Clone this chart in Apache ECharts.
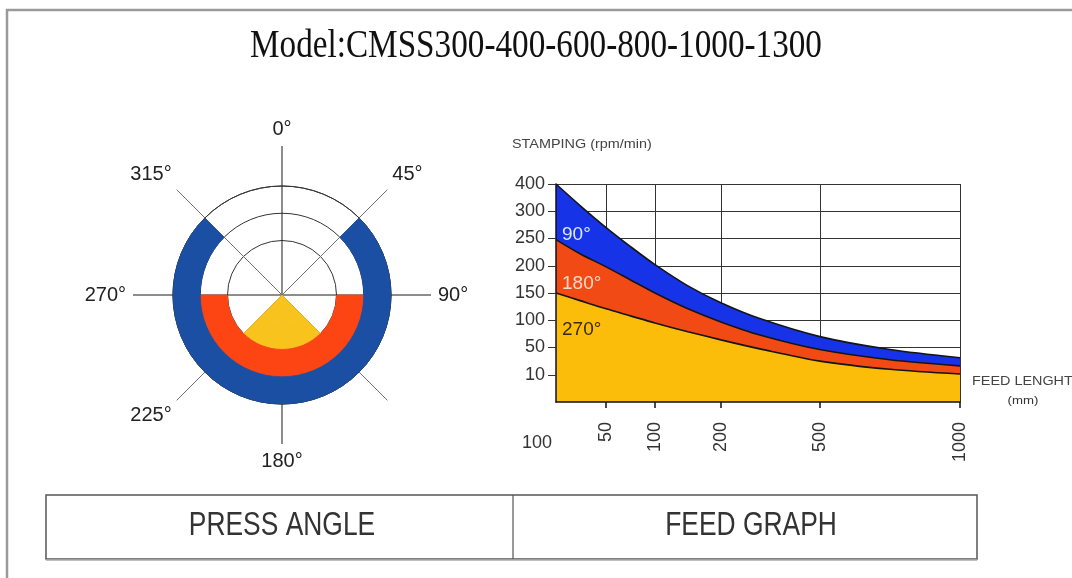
<!DOCTYPE html>
<html lang="en">
  <head>
    <meta charset="UTF-8" />
    <meta name="viewport" content="width=device-width, initial-scale=1.0" />
    <title>CMSS press angle / feed graph</title>
    <script src="https://cdn.jsdelivr.net/npm/echarts@6.0.0/dist/echarts.min.js"></script>
    <style>
      html,
      body {
        margin: 0;
        padding: 0;
        background: #fff;
      }
      #chart {
        width: 1072px;
        height: 578px;
      }
    </style>
  </head>
  <body>
    <div id="chart"></div>
  </body>
</html>
<script>
  // press angle diagram: rings, angles clockwise from top
  const ringNames = ["270°", "180°", "90°"];
  const ringFrom = [135, 90, 45];
  const ringTo = [225, 270, 315];
  const ringInner = [0, 2, 3]; // in radius bands
  const ringOuter = [2, 3, 4];
  const radiusBands = ["b1", "b2", "b3", "b4"];
  const angleLabels = ["0°", "45°", "90°", "", "180°", "225°", "270°", "315°"];

  // feed graph
  const feedTicks = [50, 100, 200, 500, 1000];
  const feedTickPos = [12.4, 24.5, 40.8, 65.3, 100]; // uneven scale of the drawing, % of axis
  const feedOriginLabel = "100";
  const stampTicks = [10, 50, 100, 150, 200, 250, 300, 400];
  const feedLen = [0, 24, 50, 75, 100, 150, 200, 318, 500, 750, 1000];
  const rpm90 = [400, 321, 270, 235, 202, 163, 132, 103, 70, 47, 35];
  const rpm180 = [248, 222, 198, 174, 150, 121, 97, 73, 47, 32, 23];
  const rpm270 = [150, 136, 121, 108, 95, 79, 64, 48, 30, 18, 11];

  const ringColors = ["#f7c31c", "#fc4513", "#1a4fa3"];
  const areaColors = { "90°": "#1733e8", "180°": "#f24a14", "270°": "#fbbd0a" };

  function interp(v, xs, ys) {
    for (let i = 1; i < xs.length; i++) {
      if (v <= xs[i]) {
        return ys[i - 1] + ((v - xs[i - 1]) / (xs[i] - xs[i - 1])) * (ys[i] - ys[i - 1]);
      }
    }
    return ys[ys.length - 1];
  }
  const feedX = [0].concat(feedTicks);
  const feedP = [0].concat(feedTickPos);
  const stampV = [0].concat(stampTicks);
  const stampP = stampV.map((_, i) => i);
  const curve = (rpm) =>
    feedLen.map((f, i) => [interp(f, feedX, feedP), interp(rpm[i], stampV, stampP)]);

  // ring bars, one stacked pair per radius band
  const ringOf = (b) => ringInner.findIndex((r, i) => b >= r && b < ringOuter[i]);
  const ringBase = radiusBands.map((_, b) => ringFrom[ringOf(b)]);
  const ringSpan = radiusBands.map((_, b) => {
    const r = ringOf(b);
    return {
      name: ringNames[r],
      value: ringTo[r] - ringFrom[r],
      itemStyle: { color: ringColors[r], borderColor: ringColors[r], borderWidth: 0.6 },
    };
  });

  const chart = echarts.init(document.getElementById("chart"));
  const sans = "Liberation Sans";

  const areaSeries = (name, rpm) => ({
    name: name,
    type: "line",
    xAxisIndex: 0,
    yAxisIndex: 0,
    data: curve(rpm),
    smooth: 0.3,
    symbol: "none",
    lineStyle: { color: "#151515", width: 1.6 },
    areaStyle: { color: areaColors[name], opacity: 1 },
    silent: true,
  });

  const text = (t, x, y, size, opt) =>
    Object.assign(
      {
        type: "text",
        x: x,
        y: y,
        z: 10,
        style: {
          text: t,
          font: size + "px " + sans,
          fill: "#333",
          align: "center",
          verticalAlign: "middle",
        },
      },
      opt || {}
    );

  const option = {
    animation: false,
    textStyle: { fontFamily: sans },
    polar: [
      { center: [282, 295], radius: 149 },
      { center: [282, 295], radius: 109 },
    ],
    angleAxis: [
      {
        polarIndex: 0,
        type: "value",
        min: 0,
        max: 360,
        interval: 45,
        startAngle: 90,
        axisLine: { show: false },
        axisTick: { show: false },
        axisLabel: {
          formatter: (v) => angleLabels[v / 45] || "",
          color: "#222",
          fontSize: 20,
          margin: 7,
        },
        splitLine: { show: true, lineStyle: { color: ["#1a1a1a", "#707070"], width: 1 } },
      },
      {
        polarIndex: 1,
        type: "value",
        min: 0,
        max: 360,
        startAngle: 90,
        axisLine: { show: true, lineStyle: { color: "#333", width: 1 } },
        axisTick: { show: false },
        axisLabel: { show: false },
        splitLine: { show: false },
      },
    ],
    radiusAxis: [
      { polarIndex: 0, type: "value", min: 0, max: 1, show: false },
      {
        polarIndex: 1,
        type: "category",
        data: radiusBands,
        axisLine: { show: false },
        axisLabel: { show: false },
        axisTick: { show: false, interval: (i) => i >= 2 },
        splitLine: { show: true, lineStyle: { color: "#333", width: 1 } },
      },
    ],
    grid: { left: 556, top: 184, width: 404, height: 218, outerBoundsMode: "none" },
    xAxis: [
      {
        type: "value",
        min: 0,
        max: 100,
        z: 3,
        axisLine: { lineStyle: { color: "#111", width: 1.5 } },
        axisTick: { customValues: feedTickPos, length: 6, lineStyle: { color: "#111", width: 1.5 } },
        axisLabel: {
          customValues: feedTickPos,
          formatter: (v) => String(feedTicks[feedTickPos.indexOf(v)]),
          rotate: 90,
          fontSize: 18,
          color: "#333",
          margin: 20,
        },
        splitLine: { show: true, lineStyle: { color: "#333", width: 1 } },
      },
    ],
    yAxis: [
      {
        type: "value",
        min: 0,
        max: 8,
        interval: 1,
        z: 3,
        axisLine: { show: true, lineStyle: { color: "#111", width: 1.5 } },
        axisTick: { show: true, customValues: stampP.slice(1), length: 8, lineStyle: { color: "#333" } },
        axisLabel: {
          formatter: (v) => (v > 0 ? String(stampTicks[v - 1]) : ""),
          fontSize: 18,
          color: "#333",
          margin: 11,
        },
        splitLine: { show: true, lineStyle: { color: "#333", width: 1 } },
      },
    ],
    series: [
      {
        type: "bar",
        coordinateSystem: "polar",
        polarIndex: 1,
        stack: "ring",
        data: ringBase,
        barCategoryGap: "0%",
        itemStyle: { color: "rgba(0,0,0,0)" },
        silent: true,
      },
      {
        type: "bar",
        coordinateSystem: "polar",
        polarIndex: 1,
        stack: "ring",
        data: ringSpan,
        barCategoryGap: "0%",
        silent: true,
      },
      areaSeries("90°", rpm90),
      areaSeries("180°", rpm180),
      areaSeries("270°", rpm270),
    ],
    graphic: [
      {
        type: "polyline",
        shape: { points: [[7, 578], [7, 10], [1072, 10]] },
        style: { stroke: "#9a9a9a", lineWidth: 2.5, fill: null },
      },
      {
        type: "rect",
        shape: { x: 46, y: 495, width: 931, height: 64 },
        style: { stroke: "#555", lineWidth: 1.5, fill: null },
      },
      {
        type: "line",
        shape: { x1: 46, y1: 560, x2: 977, y2: 560 },
        style: { stroke: "#aaa", lineWidth: 1.5 },
      },
      {
        type: "line",
        shape: { x1: 513, y1: 495, x2: 513, y2: 559 },
        style: { stroke: "#555", lineWidth: 1.2 },
      },
      text("Model:CMSS300-400-600-800-1000-1300", 536, 46, 41, {
        scaleX: 0.81,
        style: {
          text: "Model:CMSS300-400-600-800-1000-1300",
          font: "41px Liberation Serif",
          fill: "#111",
          align: "center",
          verticalAlign: "middle",
        },
      }),
      text("PRESS ANGLE", 282, 526, 33, { scaleX: 0.8 }),
      text("FEED GRAPH", 751, 526, 33, { scaleX: 0.8 }),
      text("STAMPING (rpm/min)", 512, 145, 12, {
        scaleX: 1.2,
        style: { text: "STAMPING (rpm/min)", font: "12px " + sans, fill: "#444", align: "left", verticalAlign: "middle" },
      }),
      text("FEED LENGHT", 972, 382, 12, {
        scaleX: 1.2,
        style: { text: "FEED LENGHT", font: "12px " + sans, fill: "#444", align: "left", verticalAlign: "middle" },
      }),
      text("(mm)", 1023, 401, 11, { scaleX: 1.2 }),
      text(feedOriginLabel, 537, 443, 18),
      {
        type: "text",
        x: 562,
        y: 235,
        z: 10,
        style: { text: "90°", font: "19px " + sans, fill: "#dce8ff", align: "left", verticalAlign: "middle" },
      },
      {
        type: "text",
        x: 562,
        y: 284,
        z: 10,
        style: { text: "180°", font: "19px " + sans, fill: "#ffd9c8", align: "left", verticalAlign: "middle" },
      },
      {
        type: "text",
        x: 562,
        y: 330,
        z: 10,
        style: { text: "270°", font: "19px " + sans, fill: "#3a2a00", align: "left", verticalAlign: "middle" },
      },
    ],
  };
  chart.setOption(option);
</script>
